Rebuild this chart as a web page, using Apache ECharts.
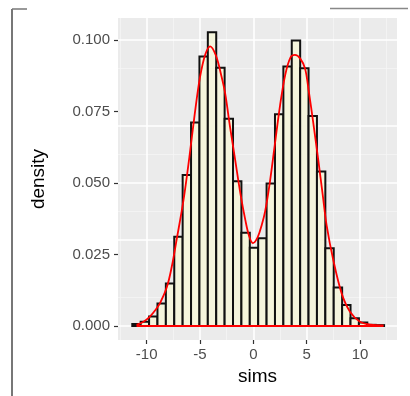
<!DOCTYPE html>
<html>
<head>
<meta charset="utf-8">
<script src="https://cdn.jsdelivr.net/npm/echarts@6/dist/echarts.min.js"></script>
<style>
  html, body { margin: 0; padding: 0; background: #fff; }
  #chart { width: 410px; height: 396px; }
</style>
</head>
<body>
<div id="chart"></div>
<script>
// histogram of sims (30 bins)
var binStart = -11.35
var binWidth = 0.787
var binDensity = [
  0.0007, 0.0015, 0.0033, 0.0079, 0.0149, 0.0312, 0.0528, 0.0712, 0.0942, 0.1027,
  0.0903, 0.0725, 0.0506, 0.0326, 0.0274, 0.0307, 0.0498, 0.0740, 0.0907, 0.0998,
  0.0901, 0.0734, 0.0540, 0.0272, 0.0135, 0.0073, 0.0027, 0.0012, 0.0004, 0.0003
]
// density curve
var curveX = [
  -10.95, -10.3, -9.7, -9.2, -8.75, -8.1, -7.65, -7.2, -6.55, -6.0,
  -5.5, -5.0, -4.5, -4.05, -3.5, -3.0, -2.65, -2.2, -1.7, -1.2,
  -0.75, -0.4, -0.05, 0.4, 0.8, 1.1, 1.5, 2.0, 2.5, 3.0,
  3.5, 3.9, 4.4, 4.85, 5.2, 5.62, 6.09, 6.5, 6.88, 7.5,
  8.28, 9.06, 10.0, 11.0, 12.2
]
var curveY = [
  0.0004, 0.0015, 0.0033, 0.0055, 0.0080, 0.0137, 0.0207, 0.0300, 0.0440, 0.0590,
  0.0740, 0.0870, 0.0950, 0.0978, 0.0945, 0.0875, 0.0815, 0.0700, 0.0580, 0.0460,
  0.0370, 0.0315, 0.0290, 0.0310, 0.0355, 0.0400, 0.0490, 0.0630, 0.0770, 0.0880,
  0.0940, 0.0948, 0.0935, 0.0900, 0.0820, 0.0710, 0.0580, 0.0460, 0.0350, 0.0230,
  0.0114, 0.0050, 0.0015, 0.0005, 0.0002
]
var xTicks = [-10, -5, 0, 5, 10]
var yTicks = [0, 0.025, 0.05, 0.075, 0.1]
var xMinor = [-12.5, -7.5, -2.5, 2.5, 7.5, 12.5]
var yMinor = [0.0125, 0.0375, 0.0625, 0.0875]

var bins = binDensity.map(function (d, i) {
  return [binStart + i * binWidth, binStart + (i + 1) * binWidth, d]
})
var curve = curveX.map(function (x, i) { return [x, curveY[i]] })

var minorStyle = { color: '#F5F5F5', width: 0.8, type: 'solid' }
var majorStyle = { color: '#FFFFFF', width: 1.6, type: 'solid' }
var gridLines = []
xMinor.forEach(function (v) { gridLines.push({ xAxis: v, lineStyle: minorStyle }) })
yMinor.forEach(function (v) { gridLines.push({ yAxis: v, lineStyle: minorStyle }) })
xTicks.forEach(function (v) { gridLines.push({ xAxis: v, lineStyle: majorStyle }) })
yTicks.forEach(function (v) { gridLines.push({ yAxis: v, lineStyle: majorStyle }) })

var labelFont = { color: '#4D4D4D', fontFamily: 'Liberation Sans', fontSize: 15 }
var titleFont = { color: '#000', fontFamily: 'Liberation Sans', fontSize: 19 }

var myChart = echarts.init(document.getElementById('chart'))
var option = {
  backgroundColor: '#FFFFFF',
  animation: false,
  grid: {
    left: 118, top: 18, width: 279, height: 322,
    show: true, backgroundColor: '#EBEBEB', borderWidth: 0,
    containLabel: false
  },
  xAxis: {
    type: 'value',
    min: -12.69, max: 13.47,
    name: 'sims', nameLocation: 'middle', nameGap: 26,
    nameTextStyle: titleFont,
    axisLine: { show: false, onZero: false },
    axisTick: { show: true, length: 4, customValues: xTicks, lineStyle: { color: '#333333', width: 1.2 } },
    axisLabel: Object.assign({ customValues: xTicks, margin: 7 }, labelFont),
    splitLine: { show: false }
  },
  yAxis: {
    type: 'value',
    min: -0.0049, max: 0.1077,
    name: 'density', nameLocation: 'middle', nameGap: 70, nameRotate: 90,
    nameTextStyle: titleFont,
    axisLine: { show: false, onZero: false },
    axisTick: { show: true, length: 4, customValues: yTicks, lineStyle: { color: '#333333', width: 1.2 } },
    axisLabel: Object.assign({
      customValues: yTicks, margin: 8,
      formatter: function (v) { return v.toFixed(3) }
    }, labelFont),
    splitLine: { show: false }
  },
  series: [
    {
      // panel grid lines
      type: 'line',
      data: [],
      z: 1,
      silent: true,
      markLine: {
        silent: true,
        z: 1,
        symbol: ['none', 'none'],
        label: { show: false },
        emphasis: { disabled: true },
        animation: false,
        data: gridLines
      }
    },
    {
      type: 'custom',
      z: 3,
      data: bins,
      encode: { x: [0, 1], y: 2 },
      renderItem: function (params, api) {
        var p0 = api.coord([api.value(0), api.value(2)])
        var p1 = api.coord([api.value(1), 0])
        return {
          type: 'rect',
          shape: { x: p0[0], y: p0[1], width: p1[0] - p0[0], height: p1[1] - p0[1] },
          style: { fill: '#F5F5DC', stroke: '#111111', lineWidth: 2 }
        }
      }
    },
    {
      type: 'line',
      z: 4,
      data: curve,
      smooth: 0.35,
      showSymbol: false,
      lineStyle: { color: '#FF0000', width: 1.8 }
    },
    {
      type: 'line',
      z: 4,
      data: [[curveX[0], 0], [curveX[curveX.length - 1], 0]],
      showSymbol: false,
      lineStyle: { color: '#FF0000', width: 1.8 }
    }
  ],
  graphic: [
    { type: 'line', shape: { x1: 12, y1: 9, x2: 12, y2: 396 }, style: { stroke: '#777777', lineWidth: 2 } },
    { type: 'line', shape: { x1: 12, y1: 9, x2: 27, y2: 9 }, style: { stroke: '#777777', lineWidth: 1.5 } },
    { type: 'line', shape: { x1: 330, y1: 8.5, x2: 408, y2: 8.5 }, style: { stroke: '#888888', lineWidth: 1.3 } }
  ]
}
myChart.setOption(option)
</script>
</body>
</html>
